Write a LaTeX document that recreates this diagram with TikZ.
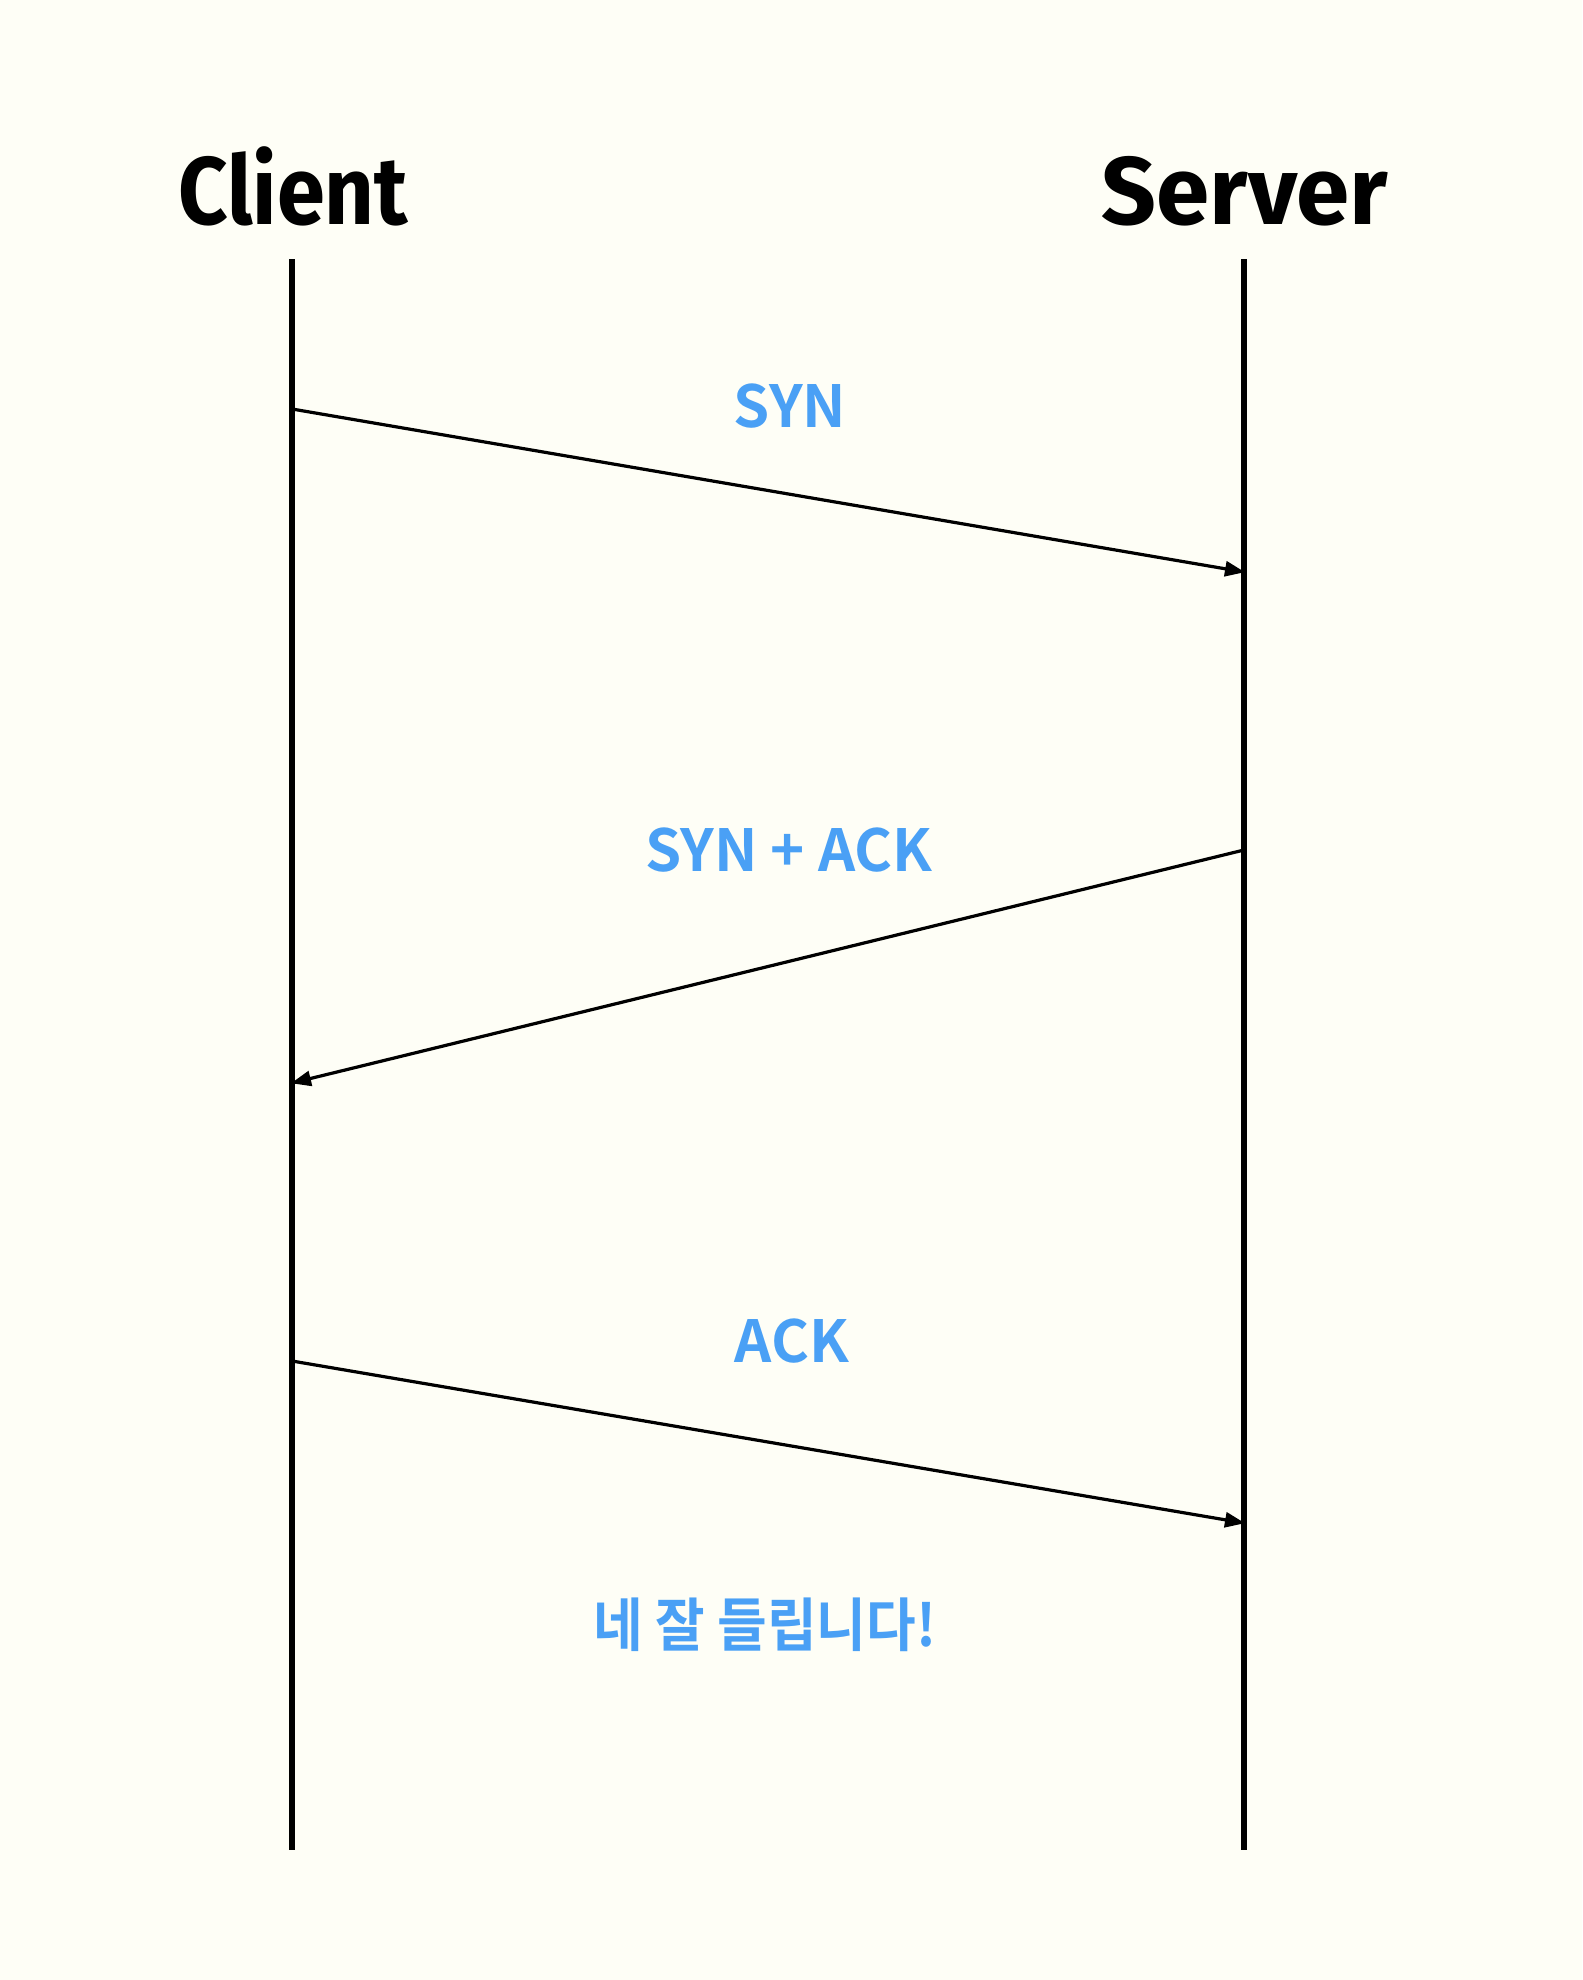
\documentclass[tikz,border=0pt]{standalone}
\usepackage{fontspec}
\setmainfont{Fira Sans}
\newfontfamily\titlefont{Fira Sans}[UprightFont=* Bold]
\newfontfamily\krfont{Noto Sans CJK KR}[UprightFont=* Bold]
\usetikzlibrary{arrows.meta}
\definecolor{bgc}{HTML}{FEFEF6}
\definecolor{lblue}{HTML}{4AA0F5}
\begin{document}
\begin{tikzpicture}[x=1pt,y=-1pt,
  title/.style={font=\titlefont\fontsize{96}{100}\selectfont, text=black, inner sep=0pt, anchor=base},
  msglabel/.style={font=\krfont\fontsize{58}{60}\selectfont, text=lblue, inner sep=0pt, anchor=center},
  lifeline/.style={line width=5.5pt, black},
  msg/.style={line width=3.2pt, black, -{Triangle[length=20pt,width=15pt]}, shorten >=-1pt}]
\fill[bgc] (0,0) rectangle (1582,1980);
\useasboundingbox (0,0) rectangle (1582,1980);
\node[title, xscale=0.9] (client) at (293,224) {Client};
\node[title] (server) at (1245,224) {Server};
\coordinate (ctop) at (292,259);
\coordinate (cbot) at (292,1850);
\coordinate (stop) at (1244,259);
\coordinate (sbot) at (1244,1850);
\draw[lifeline] (ctop) -- (cbot);
\draw[lifeline] (stop) -- (sbot);
\coordinate (c1) at (292,409);
\coordinate (s1) at (1244,572);
\coordinate (s2) at (1244,850);
\coordinate (c2) at (292,1083);
\coordinate (c3) at (292,1361);
\coordinate (s3) at (1244,1523);
\draw[msg] (c1) -- (s1);
\draw[msg] (s2) -- (c2);
\draw[msg] (c3) -- (s3);
\node[msglabel] (syn) at (790,406) {SYN};
\node[msglabel] (synack) at (789,850) {SYN + ACK};
\node[msglabel] (ack) at (792,1341) {ACK};
\node[msglabel, xscale=0.93] (ok) at (765,1625) {네 잘 들립니다!};
\end{tikzpicture}
\end{document}
